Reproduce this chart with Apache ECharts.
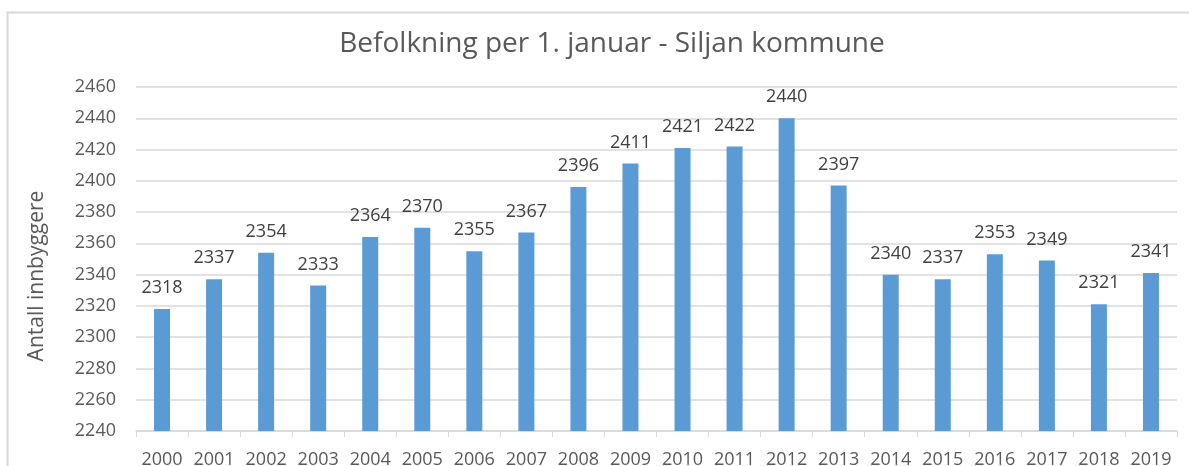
<!DOCTYPE html>
<html><head><meta charset="utf-8">
<script src="https://cdn.jsdelivr.net/npm/echarts@6/dist/echarts.min.js"></script>
<style>html,body{margin:0;padding:0;background:#fff}#c{width:1189px;height:466px}</style>
</head><body><div id="c"></div>
<script>
const years = ['2000','2001','2002','2003','2004','2005','2006','2007','2008','2009','2010','2011','2012','2013','2014','2015','2016','2017','2018','2019'];
const population = [2318,2337,2354,2333,2364,2370,2355,2367,2396,2411,2421,2422,2440,2397,2340,2337,2353,2349,2321,2341];
const titleText = 'Befolkning per 1. januar - Siljan kommune';
const yAxisName = 'Antall innbyggere';
const chart = echarts.init(document.getElementById('c'));
const font = '"Open Sans", "Noto Sans", sans-serif';
chart.setOption({
  animation:false,
  textStyle:{fontFamily:font},
  graphic:[
    {type:'rect',shape:{x:7.5,y:12.5,width:1200,height:480},style:{fill:'none',stroke:'#d9d9d9',lineWidth:2}},
    {type:'text',x:37,y:276,rotation:Math.PI/2,style:{text:yAxisName,fill:'#595959',font:'21px "Open Sans", sans-serif',textAlign:'center',textVerticalAlign:'middle'}}
  ],
  title:{text:titleText,left:607,textAlign:'center',top:25,textStyle:{fontFamily:font,fontSize:28,fontWeight:'normal',color:'#595959'}},
  grid:{left:136,right:12,top:87,bottom:35,outerBoundsMode:'none',containLabel:false},
  xAxis:{type:'category',data:years,
    axisLine:{lineStyle:{color:'#d9d9d9',width:1.5}},
    axisTick:{show:true,length:6,lineStyle:{color:'#d9d9d9'}},
    axisLabel:{color:'#595959',fontSize:18,margin:20,interval:0,hideOverlap:false,fontFamily:font}},
  yAxis:{type:'value',min:2240,max:2460,interval:20,
    axisLine:{show:false},axisTick:{show:false},
    axisLabel:{color:'#595959',fontSize:18,margin:20,fontFamily:font,formatter:v=>String(v)},
    splitLine:{lineStyle:{color:'#d9d9d9',width:1.5}}},
  series:[{type:'bar',data:population,barWidth:16,
    itemStyle:{color:'#5b9bd5'},
    label:{show:true,position:'top',distance:12,color:'#404040',fontSize:18,fontFamily:font}}]
});
</script></body></html>
